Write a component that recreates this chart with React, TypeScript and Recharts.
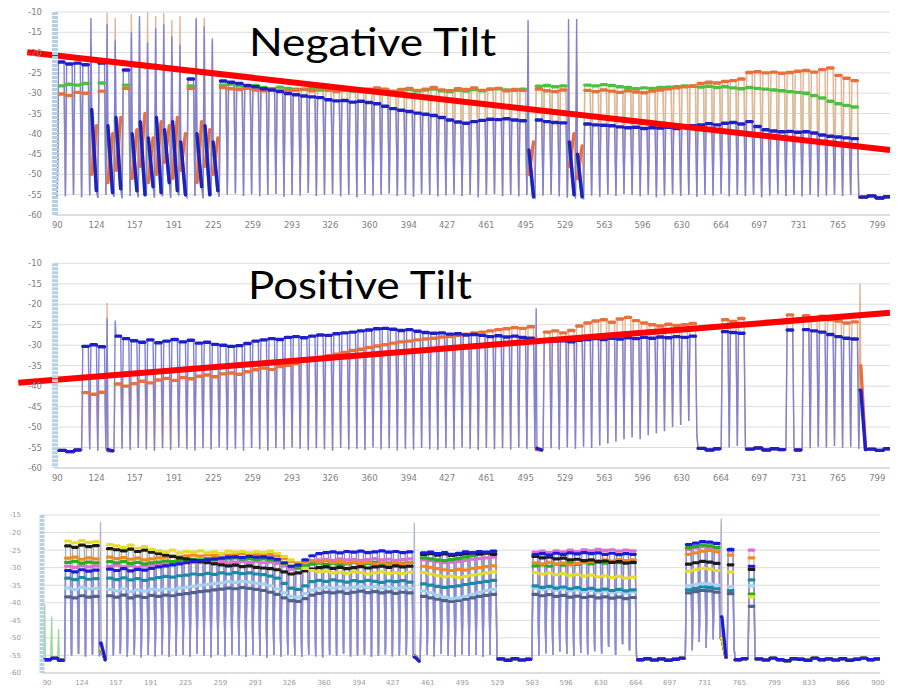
import React from 'react';
import { LineChart, Line, XAxis, YAxis, CartesianGrid, ReferenceLine } from 'recharts';

const _ = null;

// ---------- axes ----------
const p12Ticks = [90, 124, 157, 191, 225, 259, 293, 326, 360, 394, 427, 461, 495, 529, 563, 596, 630, 664, 697, 731, 765, 799];
const p3Ticks = [90, 124, 157, 191, 225, 259, 293, 326, 360, 394, 427, 461, 495, 529, 563, 596, 630, 664, 697, 731, 765, 799, 833, 866, 900];
const yTicks12 = [-10, -15, -20, -25, -30, -35, -40, -45, -50, -55, -60];
const yTicks3 = [-15, -20, -25, -30, -35, -40, -45, -50, -55, -60];

// ---------- panel 1 : Negative Tilt (channel levels, dBm) ----------
const p1Blue = [
  -22.3, -22.8, -22.6, -23.0, -34, -22.6, -38, -36, -24.3, -40,
  -37, -41, -36, -39, -37, -42, -26.5, -40, -38, -42,
  -27.0, -27.3, -27.6, -28.1, -28.4, -28.9, -29.2, -29.6, -30.1, -30.4,
  -30.7, -30.9, -31.1, -31.6, -31.9, -31.8, -32.2, -32.0, -32.3, -32.6,
  -33.2, -33.8, -34.2, -34.5, -34.9, -35.2, -35.5, -36.0, -36.6, -37.1,
  -37.4, -37.0, -36.7, -36.4, -36.5, -36.3, -36.6, -36.8, -44, -36.6,
  -37.0, -37.2, -37.3, -42, -45, -37.6, -37.8, -37.9, -38.0, -38.3,
  -38.5, -38.4, -38.7, -38.5, -38.6, -38.4, -38.7, -38.3, -38.0, -37.8,
  -37.5, -37.8, -37.4, -37.2, -37.6, -37.0, -38.2, -39.0, -39.3, -39.5,
  -39.4, -39.6, -39.5, -39.8, -40.3, -40.6, -40.8, -41.0, -41.2, _,
  _, _, _,
];
const p1Orange = [
  -30.2, -30.6, -29.8, -30.0, -50, -29.5, -52, -49, -28.8, -51,
  -48, -52, -50, -47, -51, -49, -28.8, -52, -48, -50,
  -28.6, -28.9, -29.1, -28.8, -29.2, -29.4, -29.0, -29.3, -29.5, -29.2,
  -29.0, -29.4, -28.8, -29.3, -29.6, -29.1, -28.9, -29.4, -29.2, -28.7,
  -29.0, -29.5, -29.1, -28.8, -29.3, -29.0, -28.6, -29.2, -29.4, -28.9,
  -29.1, -28.7, -29.3, -29.0, -28.8, -29.4, -29.1, -29.3, -50, -29.0,
  -29.4, -29.6, -29.2, -48, -51, -29.3, -29.6, -29.2, -29.5, -29.8,
  -29.4, -29.7, -29.9, -29.5, -29.2, -28.9, -28.7, -28.4, -28.2, -27.6,
  -27.3, -27.5, -27.1, -26.9, -26.5, -24.9, -24.7, -25.0, -24.8, -25.1,
  -24.9, -24.6, -24.4, -24.8, -24.2, -23.8, -25.6, -26.3, -26.9, _,
  _, _, _,
];
const p1Green = [
  -28.2, -27.8, -28.0, -27.6, -35, -27.5, -39, -37, -28.0, -41,
  -38, -42, -37, -40, -38, -43, -28.2, -41, -39, -43,
  -28.0, -27.8, -28.2, -28.4, -28.1, -28.6, -28.9, -28.5, -28.8, -29.0,
  -29.1, -28.7, -29.2, -29.0, -28.8, -29.3, -29.5, -29.1, -29.0, -29.4,
  -29.2, -29.6, -29.3, -29.1, -29.5, -29.2, -29.0, -29.4, -29.6, -29.3,
  -29.5, -29.1, -29.4, -29.0, -28.9, -29.2, -29.3, -29.0, -45, -28.3,
  -28.1, -28.4, -28.2, -43, -46, -28.0, -28.2, -27.9, -28.1, -28.4,
  -28.6, -28.9, -28.7, -28.8, -28.6, -28.5, -28.4, -28.2, -28.3, -28.5,
  -28.3, -28.6, -28.4, -28.7, -28.9, -28.6, -28.8, -29.0, -29.2, -29.4,
  -29.6, -29.8, -30.0, -30.6, -31.2, -32.0, -32.6, -33.0, -33.4, _,
  _, _, _,
];
const p1Bottom = [
  -55.4, -55.0, -55.6, -55.2, -55.8, -55.1, -55.5, -55.9, -55.3, -55.6,
  -55.0, -55.7, -55.4, -55.8, -55.2, -55.6, -55.3, -55.9, -55.1, -55.5,
  -55.0, -54.7, -55.3, -54.9, -55.4, -55.1, -54.8, -55.5, -55.0, -55.2,
  -54.6, -55.3, -55.0, -54.8, -55.4, -55.1, -55.6, -54.9, -55.2, -55.0,
  -54.7, -55.3, -55.1, -55.5, -54.8, -55.0, -55.4, -55.2, -54.9, -55.3,
  -55.0, -55.6, -55.1, -54.8, -55.3, -55.0, -55.4, -55.1, -55.8, -55.2,
  -55.0, -55.4, -55.7, -55.6, -55.9, -55.2, -55.5, -55.0, -55.3, -54.8,
  -55.1, -55.4, -55.0, -55.6, -55.2, -54.9, -55.3, -55.1, -55.5, -55.0,
  -55.2, -54.8, -55.4, -55.1, -55.3, -55.0, -55.6, -55.2, -54.9, -55.3,
  -55.0, -55.4, -55.1, -55.5, -55.2, -55.0, -55.3, -55.1, -55.4, -55.6,
  -55.3, -55.8, -55.5,
];
// end level of the chaotic (unstable) channels
const p1ChaosEnd: Record<number, number> = { 4: -54, 6: -54.5, 7: -53.5, 9: -54, 10: -55, 11: -53, 12: -54.5, 13: -52, 14: -54, 15: -55, 17: -53, 18: -55, 19: -54, 58: -55.5, 63: -55, 64: -55.5 };
const p1OrangeChaosEnd: Record<number, number> = { 4: -38, 6: -40, 7: -36, 9: -39, 10: -35, 11: -41, 12: -37, 13: -38, 14: -36, 15: -40, 17: -37, 18: -39, 19: -41, 58: -42, 63: -40, 64: -43 };
const p1SpikeTan: Record<number, number> = { 4: -18, 6: -10.2, 7: -11.5, 9: -10.5, 10: -12, 11: -10, 12: -11, 13: -10.3, 14: -12, 15: -11, 17: -12, 18: -11.5, 19: -17, 58: -22.5, 64: -22 };
const p1SpikeLav: Record<number, number> = { 4: -11.5, 6: -13, 7: -17, 9: -15, 10: -11, 11: -17.5, 12: -14, 13: -13, 14: -16, 15: -18, 17: -11.5, 18: -13.5, 19: -16.5, 58: -12, 63: -11.7, 64: -11.7 };
const p1Tilt = [{ x: 64, y: -19.9 }, { x: 810, y: -44 }];

// ---------- panel 2 : Positive Tilt ----------
const p2Blue = [
  _, _, _, -30.3, -29.9, -30.4, -55.5, -27.8, -28.4, -28.9,
  -29.3, -28.7, -29.4, -29.0, -28.6, -29.2, -28.8, -29.5, -29.3, -29.8,
  -30.0, -30.3, -30.1, -29.6, -29.0, -28.7, -28.4, -28.6, -28.1, -27.9,
  -28.2, -27.8, -27.5, -27.6, -27.2, -27.0, -26.8, -26.5, -26.3, -26.0,
  -25.9, -26.1, -26.4, -26.2, -26.6, -26.9, -27.1, -27.0, -27.3, -27.2,
  -27.5, -27.4, -27.6, -27.9, -27.7, -28.0, -27.8, -28.1, -28.3, -55.2,
  -28.7, -29.0, -28.9, -29.2, -28.8, -28.6, -28.4, -28.6, -28.3, -28.5,
  -28.2, -28.4, -28.1, -28.3, -28.0, -28.2, -27.9, -28.1, -27.8, _,
  _, _, -26.7, -26.9, -27.1, _, _, _, _, _,
  -26.3, _, -26.2, -26.5, -26.8, -27.4, -27.9, -28.3, -28.5, -41,
  _, _, _,
];
const p2Orange = [
  _, _, _, -41.6, -42.0, -41.5, -55.8, -39.5, -40.0, -39.4,
  -38.8, -39.2, -38.5, -38.1, -38.6, -37.9, -38.2, -37.6, -37.3, -37.7,
  -37.0, -36.8, -37.1, -36.5, -36.0, -35.6, -35.9, -35.2, -34.9, -34.5,
  -33.8, -33.5, -33.0, -32.6, -32.2, -31.8, -31.3, -31.0, -30.6, -30.2,
  -29.9, -29.5, -29.2, -29.0, -28.7, -28.5, -28.3, -28.0, -27.9, -27.6,
  -27.3, -27.0, -26.8, -26.5, -26.2, -26.0, -25.7, -25.9, -25.5, -55.5,
  -26.8, -26.5, -27.0, -26.4, -25.3, -24.6, -24.1, -23.8, -24.4, -23.6,
  -23.2, -24.0, -24.6, -25.0, -25.3, -24.9, -25.2, -25.0, -24.7, _,
  _, _, -23.8, -24.2, -23.5, _, _, _, _, _,
  -22.6, _, -22.8, -23.4, -22.9, -23.8, -24.1, -24.6, -24.3, -35,
  _, _, _,
];
const p2Bottom = [
  -55.7, -56.0, -55.6, -55.5, -55.8, -55.4, -55.9, -55.3, -55.6, -55.1,
  -55.5, -55.8, -55.2, -55.6, -55.0, -55.4, -55.7, -55.2, -55.5, -55.0,
  -55.6, -55.3, -55.8, -55.1, -55.4, -55.7, -55.2, -55.5, -55.0, -55.3,
  -55.6, -55.2, -55.4, -55.8, -55.1, -55.5, -55.3, -55.6, -55.0, -55.4,
  -55.2, -55.7, -55.3, -55.5, -55.1, -55.4, -55.6, -55.2, -55.5, -55.0,
  -55.3, -55.6, -55.1, -55.4, -55.2, -55.5, -55.0, -55.3, -55.1, -55.4,
  -55.2, -55.5, -55.0, -55.3, -54.8, -55.1, -54.5, -54.0, -53.5, -53.0,
  -52.5, -53.0, -52.0, -51.5, -51.0, -50.0, -49.5, -48.5, -52.0, -55.2,
  -55.6, -55.3, -55.0, -54.6, -55.2, -55.4, -55.1, -55.6, -55.3, -55.5,
  -55.0, -55.6, -55.2, -54.8, -55.0, -54.6, -55.1, -54.9, -55.3, -55.6,
  -55.4, -55.7, -55.3,
];
const p2ChaosEnd: Record<number, number> = { 6: -55.8, 59: -55.6, 99: -55.5 };
const p2SpikeTan: Record<number, number> = { 6: -19.7, 99: -15 };
const p2SpikeLav: Record<number, number> = { 6: -23.4, 7: -24, 59: -21 };
const p2Tilt = [{ x: 56.3, y: -39.2 }, { x: 810, y: -22.1 }];

// ---------- panel 3 : many channels / groups ----------
const p3Layout: [string, number][] = [
  ['floor', 3], ['A1', 5], ['spike', 1], ['A2', 44], ['spike', 1], ['B', 11], ['floor', 5],
  ['C', 15], ['floor', 7], ['D', 5], ['spike', 1], ['D2', 1], ['floor', 2], ['E', 1], ['floor', 18],
];
const p3Yellow = {
  A1: [-22.4, -22.9, -22.3, -22.8, -22.6],
  A2: [-23.4, -23.8, -24.2, -23.6, -24.5, -24.0, -24.8, -25.2, -25.6, -25.0, -25.8, -25.4, -25.6, -25.2, -25.8, -25.5, -25.9, -25.3, -25.6, -25.4, -25.8, -25.5, -25.7, -25.3, -25.9, -26.8, -27.8, -29.0, -30.2, -30.8, -31.2, -31.0, -31.5, -31.3, -31.6, -31.2, -31.4, -31.8, -31.5, -31.2, -31.6, -31.4, -31.7, -31.3],
  B: [-31.4, -31.8, -32.2, -32.6, -32.4, -32.8, -32.5, -32.1, -31.8, -31.5, -31.2],
  C: [-31.4, -31.8, -31.5, -32.0, -31.7, -32.2, -31.9, -32.4, -32.1, -32.6, -32.3, -32.8, -32.5, -33.0, -32.7],
  D: [-31.0, -30.6, -30.2, -30.4, -30.8], D2: [-31.2], E: [-38.3], spike: [-53, -55.2, -50],
};
const p3Black = {
  A1: [-23.8, -24.2, -23.6, -24.0, -23.7],
  A2: [-24.6, -24.9, -25.2, -24.7, -25.4, -25.0, -25.6, -26.0, -26.4, -26.8, -27.2, -27.5, -27.9, -28.3, -28.6, -28.9, -29.2, -29.5, -29.3, -29.7, -29.5, -29.9, -30.1, -30.3, -30.6, -31.2, -31.8, -31.5, -30.9, -30.4, -30.0, -29.8, -30.2, -29.9, -30.3, -30.0, -29.7, -30.1, -29.8, -29.6, -29.9, -29.5, -29.8, -29.6],
  B: [-26.2, -26.0, -26.4, -26.1, -26.5, -26.3, -26.0, -25.8, -26.1, -25.9, -26.2],
  C: [-26.8, -27.2, -27.0, -27.5, -27.3, -27.8, -27.6, -28.0, -27.8, -28.3, -28.1, -28.5, -28.3, -28.7, -28.5],
  D: [-29.0, -28.6, -28.2, -28.4, -28.8], D2: [-29.2], E: [-30.5], spike: [-53, -55.2, -50],
};
const p3Orange = {
  A1: [-27.3, -27.0, -27.6, -27.2, -27.5],
  A2: [-27.0, -27.4, -27.1, -27.6, -27.3, -27.8, -27.5, -27.2, -27.0, -26.8, -26.9, -26.6, -26.4, -26.7, -26.3, -26.5, -26.1, -26.4, -26.2, -26.0, -26.3, -26.1, -26.4, -26.2, -26.6, -27.4, -28.2, -28.6, -28.3, -28.0, -28.4, -28.1, -28.6, -28.3, -28.7, -28.4, -28.8, -28.5, -28.9, -28.6, -29.0, -28.7, -28.9, -28.6],
  B: [-29.6, -29.9, -30.3, -30.6, -30.8, -30.5, -30.7, -30.2, -30.0, -29.7, -29.5],
  C: [-28.6, -28.9, -28.5, -29.0, -28.7, -29.2, -28.8, -28.5, -28.2, -28.0, -27.8, -28.1, -27.7, -28.0, -27.8],
  D: [-26.2, -25.8, -25.3, -25.1, -25.5], D2: [-26.4], E: [-27.2], spike: [-53, -55.2, -50],
};
const p3Green = {
  A1: [-28.5, -28.2, -28.7, -28.4, -28.6],
  A2: [-28.3, -28.6, -28.2, -28.8, -28.5, -28.9, -28.6, -28.4, -28.1, -28.3, -27.9, -28.0, -27.6, -27.8, -27.4, -27.7, -27.3, -27.5, -27.2, -27.6, -27.4, -27.7, -27.5, -27.8, -28.0, -28.8, -29.6, -30.0, -29.5, -29.0, -28.7, -29.1, -28.8, -29.2, -28.9, -28.6, -29.0, -28.8, -28.5, -28.9, -28.7, -29.1, -28.8, -28.6],
  B: [-27.2, -27.5, -27.8, -28.0, -27.7, -27.4, -27.0, -26.6, -26.2, -25.8, -25.9],
  C: [-29.5, -29.2, -29.6, -29.0, -29.3, -28.8, -29.1, -28.6, -28.9, -28.4, -28.7, -28.3, -28.6, -28.4, -28.6],
  D: [-24.3, -24.0, -23.6, -23.8, -24.2], D2: [-25.0], E: [-37.5], spike: [-53, -55.2, -50],
};
const p3Blue = {
  A1: [-30.8, -31.2, -30.6, -31.0, -30.7],
  A2: [-30.4, -30.8, -30.3, -30.9, -30.5, -30.7, -30.2, -29.8, -29.5, -29.2, -28.9, -28.6, -28.3, -28.0, -27.8, -27.5, -27.3, -27.0, -26.9, -27.1, -26.8, -27.0, -26.9, -27.2, -27.6, -28.6, -29.6, -29.2, -27.8, -26.6, -26.0, -25.7, -25.5, -25.8, -25.4, -25.6, -25.3, -25.7, -25.5, -25.2, -25.6, -25.4, -25.7, -25.5],
  B: [-25.8, -25.6, -26.0, -25.7, -26.2, -25.9, -25.5, -25.8, -25.4, -25.6, -25.3],
  C: [-26.3, -26.0, -26.4, -25.9, -26.2, -25.8, -26.1, -25.7, -26.0, -25.8, -26.2, -25.9, -26.3, -26.0, -26.2],
  D: [-23.4, -23.0, -22.6, -22.7, -23.1], D2: [-24.8], E: [-29.6], spike: [-51.5, -55.5, -44],
};
const p3Pink = {
  A1: [-29.6, -29.9, -29.4, -29.8, -29.5],
  A2: [-29.6, -29.3, -29.8, -29.4, -29.9, -29.5, -29.2, -29.0, -28.8, -28.9, -28.5, -28.6, -28.4, -28.6, -28.2, -28.5, -28.3, -28.6, -28.4, -28.2, -28.5, -28.3, -28.6, -28.4, -28.8, -29.5, -30.4, -30.2, -29.2, -28.2, -27.8, -27.6, -27.9, -27.5, -27.8, -27.6, -27.9, -27.7, -27.4, -27.8, -27.6, -27.9, -27.7, -27.5],
  B: [-27.8, -28.0, -28.3, -28.6, -28.4, -28.2, -27.9, -27.6, -27.4, -27.2, -27.0],
  C: [-25.6, -25.3, -25.7, -25.2, -25.5, -25.0, -25.4, -24.9, -25.2, -24.8, -25.1, -24.9, -25.3, -25.0, -25.2],
  D: [-24.8, -24.4, -24.0, -24.2, -24.6], D2: [-25.2], E: [-25.0], spike: [-53, -55.2, -50],
};
const p3Teal = {
  A1: [-33.0, -33.4, -32.8, -33.3, -33.1],
  A2: [-33.0, -33.4, -32.9, -33.5, -33.1, -33.6, -33.2, -32.8, -32.5, -32.7, -32.3, -32.1, -31.8, -32.0, -31.6, -31.9, -31.5, -31.8, -31.4, -31.7, -31.5, -31.8, -32.0, -32.4, -33.0, -34.5, -35.8, -36.2, -35.2, -34.0, -33.6, -33.9, -33.5, -33.8, -34.1, -33.7, -34.0, -33.6, -33.9, -34.2, -33.8, -34.0, -33.7, -34.1],
  B: [-34.6, -35.0, -35.3, -35.6, -35.4, -35.2, -34.8, -34.5, -34.2, -33.9, -33.6],
  C: [-35.2, -35.6, -35.3, -35.8, -35.5, -36.0, -35.7, -36.2, -35.9, -36.4, -36.1, -36.5, -36.2, -36.6, -36.3],
  D: [-36.3, -35.9, -35.5, -35.6, -36.0], D2: [-36.5], E: [-33.5], spike: [-53, -55.2, -50],
};
const p3LightBlue = {
  A1: [-35.8, -36.2, -35.6, -36.0, -35.9],
  A2: [-36.2, -36.6, -36.0, -36.8, -36.3, -36.7, -36.1, -36.4, -36.0, -36.3, -35.8, -35.6, -35.3, -35.0, -34.8, -34.5, -34.3, -34.0, -34.2, -33.9, -34.1, -34.4, -34.7, -35.2, -36.0, -37.2, -38.2, -38.4, -37.4, -36.4, -35.9, -35.6, -35.8, -35.5, -35.9, -35.6, -35.3, -35.7, -35.4, -35.8, -35.5, -35.9, -35.6, -35.8],
  B: [-36.6, -37.2, -37.8, -38.4, -38.8, -38.6, -38.2, -37.6, -37.0, -36.5, -36.2],
  C: [-35.8, -36.2, -36.0, -36.4, -36.1, -36.6, -36.3, -36.8, -36.5, -37.0, -36.7, -37.1, -36.8, -37.2, -36.9],
  D: [-35.2, -34.8, -34.5, -34.6, -35.0], D2: [-35.4], E: [-35.2], spike: [-53, -55.2, -50],
};
const p3Navy = {
  A1: [-38.3, -38.6, -38.0, -38.4, -38.2],
  A2: [-38.0, -38.4, -37.8, -38.6, -38.1, -38.5, -37.9, -38.2, -37.8, -38.0, -37.6, -37.4, -37.1, -36.8, -36.6, -36.3, -36.1, -35.8, -36.0, -35.7, -35.9, -36.2, -36.5, -37.0, -37.6, -38.6, -39.4, -39.6, -38.8, -37.8, -37.3, -37.0, -37.2, -36.9, -37.3, -37.0, -36.7, -37.1, -36.8, -37.2, -36.9, -37.3, -37.0, -37.2],
  B: [-38.2, -38.6, -39.0, -39.4, -39.6, -39.3, -39.0, -38.6, -38.2, -37.9, -37.6],
  C: [-37.6, -38.0, -37.7, -38.2, -37.9, -38.4, -38.1, -38.5, -38.2, -38.6, -38.3, -38.7, -38.4, -38.8, -38.5],
  D: [-37.2, -36.8, -36.5, -36.6, -37.0], D2: [-37.4], E: [-41.0], spike: [-53, -55.2, -50],
};
const p3Bottom = [
  -56.2, -55.8, -56.4,
  -55.0, -54.6, -55.3, -54.8, -55.2,
  -56.0,
  -55.0, -54.6, -55.3, -54.8, -55.5, -54.9, -55.2, -54.7, -55.4, -55.0,
  -54.8, -55.3, -54.6, -55.1, -55.5, -54.9, -55.2, -54.7, -55.0, -55.4,
  -54.8, -55.1, -55.6, -54.9, -55.3, -54.7, -55.0, -55.4, -54.8, -55.2,
  -55.5, -54.9, -55.1, -54.6, -55.3, -55.0, -54.8, -55.4, -55.1, -54.7,
  -55.2, -55.0, -54.9, -55.3,
  -56.4,
  -54.8, -55.2, -54.6, -55.0, -55.3, -54.7, -55.1, -54.9, -55.4, -54.8, -55.6,
  -56.0, -56.4, -55.9, -56.3, -56.1,
  -55.0, -54.4, -54.8, -53.9, -54.6, -55.1, -54.2, -54.7, -53.8, -54.5, -52.6, -54.9, -51.8, -53.6, -55.2,
  -56.2, -55.9, -56.3, -56.0, -56.4, -56.1, -55.8,
  -53.5, -51.2, -52.8, -50.4, -49.8,
  -55.6,
  -53.0,
  -56.2, -55.9,
  -55.5,
  -56.0, -56.3, -55.8, -56.2, -56.5, -55.9, -56.1, -56.4, -55.8, -56.2, -56.0, -56.3, -55.9, -56.4, -56.1, -55.8, -56.2, -56.0,
];
const p3End: Record<number, number> = { 8: -56.2, 53: -56.6, 97: -55.5 };
const p3SpikeGray: Record<number, number> = { 8: -17, 53: -17.2, 97: -16 };
const p3SpikeTan: Record<number, number> = { 8: -19.5, 97: -17.5 };
const p3SpikeGreen: Record<number, number> = { 0: -40.5, 1: -44, 2: -47.5 };

// ---------- helpers ----------
type Series = { key: string; values: (number | null)[]; spikes?: Record<number, number>; ends?: Record<number, number>; thin: string; thick: string };

function assemble(groups: Record<string, number[]>): (number | null)[] {
  const out: (number | null)[] = [];
  let sp = 0;
  p3Layout.forEach(([name, n]) => {
    for (let i = 0; i < n; i++) {
      if (name === 'floor') out.push(null);
      else if (name === 'spike') out.push(groups.spike[sp++] ?? null);
      else out.push(groups[name][i] ?? null);
    }
  });
  return out;
}

function buildRows(start: number, step: number, bottom: number[], ends: Record<number, number>, series: Series[]) {
  const rows: Record<string, number | null>[] = [];
  const first: Record<string, number | null> = { x: start };
  series.forEach((s) => { first[s.key] = bottom[0]; first[s.key + 'T'] = null; });
  rows.push(first);
  for (let k = 0; k < bottom.length; k++) {
    const x0 = start + k * step;
    const xs = [x0 + 0.15 * step, x0 + 0.25 * step, x0 + 0.83 * step, x0 + step];
    const r = xs.map((x) => ({ x } as Record<string, number | null>));
    series.forEach((s) => {
      const v = s.values[k];
      const active = v !== null && v !== undefined;
      const L = active ? (v as number) : bottom[k];
      const own = s.ends && s.ends[k] !== undefined ? s.ends[k] : undefined;
      const R = own !== undefined ? own : ends[k] !== undefined ? ends[k] : L;
      const sp = s.spikes && s.spikes[k] !== undefined ? s.spikes[k] : null;
      const nv = s.values[k + 1];
      const nextActive = nv !== null && nv !== undefined;
      r[0][s.key] = sp !== null ? sp : L;
      r[1][s.key] = L;
      r[2][s.key] = R;
      r[3][s.key] = bottom[k];
      r[0][s.key + 'T'] = sp !== null ? null : L;
      r[1][s.key + 'T'] = L;
      r[2][s.key + 'T'] = R;
      r[3][s.key + 'T'] = !active && !nextActive ? bottom[k] : null;
    });
    rows.push(...r);
  }
  return rows;
}

// ---------- series definitions ----------
const s1: Series[] = [
  { key: 'green', values: p1Green, thin: '#b4dcaa', thick: '#4cc040' },
  { key: 'orange', values: p1Orange, spikes: p1SpikeTan, ends: p1OrangeChaosEnd, thin: '#e4b494', thick: '#e8703c' },
  { key: 'blue', values: p1Blue, spikes: p1SpikeLav, thin: '#8282d2', thick: '#1f1fc8' },
];
const s2: Series[] = [
  { key: 'orange', values: p2Orange, spikes: p2SpikeTan, thin: '#e4b494', thick: '#e8703c' },
  { key: 'blue', values: p2Blue, spikes: p2SpikeLav, thin: '#8282d2', thick: '#1f1fc8' },
];
const s3: Series[] = [
  { key: 'yellow', values: assemble(p3Yellow), thin: '#ece6a6', thick: '#e6dc2c' },
  { key: 'orange', values: assemble(p3Orange), spikes: p3SpikeTan, thin: '#eec8a0', thick: '#f08a20' },
  { key: 'green', values: assemble(p3Green), spikes: p3SpikeGreen, thin: '#9ed69e', thick: '#22b022' },
  { key: 'pink', values: assemble(p3Pink), thin: '#e6c0e0', thick: '#e070d0' },
  { key: 'teal', values: assemble(p3Teal), thin: '#9cc8d6', thick: '#1a8aa8' },
  { key: 'light', values: assemble(p3LightBlue), spikes: p3SpikeGray, thin: '#b0b6cc', thick: '#a6d2f0' },
  { key: 'black', values: assemble(p3Black), thin: '#b0b0b8', thick: '#1a1a1a' },
  { key: 'navy', values: assemble(p3Navy), thin: '#a0a0cc', thick: '#52608c' },
  { key: 'blue', values: assemble(p3Blue), thin: '#8a8ad8', thick: '#1c1cd6' },
];
const s3ThickOrder = ['navy', 'light', 'teal', 'pink', 'green', 'orange', 'black', 'yellow', 'blue'];

const rows1 = buildRows(90, 7, p1Bottom, p1ChaosEnd, s1);
const rows2 = buildRows(90, 7, p2Bottom, p2ChaosEnd, s2);
const rows3 = buildRows(86.6, 6.8, p3Bottom, p3End, s3);

type PanelProps = {
  top: number; height: number; marginTop: number; right: number; yWidth: number; xHeight: number;
  xDomain: [number, number]; xTicks: number[]; yDomain: [number, number]; yTicks: number[];
  rows: Record<string, number | null>[]; series: Series[]; thickOrder?: string[];
  tilt?: { x: number; y: number }[]; yTickMargin: number; xTickMargin: number;
  font: number; fontColor: string; barWidth: number; thinWidth: number; thickWidth: number;
};

function Panel(p: PanelProps) {
  const tickStyle = { fill: p.fontColor, fontSize: p.font, fontFamily: 'DejaVu Sans' };
  const thickSeries = p.thickOrder ? p.thickOrder.map((k) => p.series.find((s) => s.key === k) as Series) : p.series;
  return (
    <div style={{ position: 'absolute', left: 0, top: p.top }}>
      <LineChart width={898} height={p.height} data={p.rows} margin={{ top: p.marginTop, right: p.right, bottom: 0, left: 0 }}>
        <CartesianGrid vertical={false} stroke="#dcdcdc" />
        <XAxis dataKey="x" type="number" domain={p.xDomain} ticks={p.xTicks} allowDataOverflow interval={0}
          height={p.xHeight} tickSize={0} tickMargin={p.xTickMargin} tickLine={false}
          axisLine={{ stroke: '#cfcfcf' }} tick={tickStyle} />
        <YAxis type="number" domain={p.yDomain} ticks={p.yTicks} allowDataOverflow interval={0}
          width={p.yWidth} tickSize={0} tickMargin={p.yTickMargin} tickLine={false}
          axisLine={{ stroke: '#b6d0e6', strokeWidth: p.barWidth, strokeDasharray: '3 1' }} tick={tickStyle} />
        {p.series.map((s) => (
          <Line key={s.key} dataKey={s.key} type="linear" stroke={s.thin} strokeWidth={p.thinWidth}
            dot={false} activeDot={false} isAnimationActive={false} />
        ))}
        {thickSeries.map((s) => (
          <Line key={s.key + 'T'} dataKey={s.key + 'T'} type="linear" stroke={s.thick} strokeWidth={p.thickWidth}
            strokeLinecap="round" strokeLinejoin="round" connectNulls={false}
            dot={false} activeDot={false} isAnimationActive={false} />
        ))}
        {p.tilt && (
          <ReferenceLine segment={p.tilt} stroke="#ff0000" strokeWidth={6} ifOverflow="visible" />
        )}
      </LineChart>
    </div>
  );
}

export default function App() {
  return (
    <div style={{ position: 'absolute', left: 0, top: 0, width: 898, height: 690, background: '#ffffff', overflow: 'hidden' }}>
      <Panel top={0} height={240} marginTop={12} right={8} yWidth={55} xHeight={25}
        xDomain={[88, 810]} xTicks={p12Ticks} yDomain={[-60, -10]} yTicks={yTicks12}
        rows={rows1} series={s1} tilt={p1Tilt} yTickMargin={13} xTickMargin={7}
        font={8.5} fontColor="#808080" barWidth={6} thinWidth={1.4} thickWidth={3.4} />
      <Panel top={250} height={243} marginTop={13.3} right={8} yWidth={55} xHeight={25}
        xDomain={[88, 810]} xTicks={p12Ticks} yDomain={[-60, -10]} yTicks={yTicks12}
        rows={rows2} series={s2} tilt={p2Tilt} yTickMargin={13} xTickMargin={7}
        font={8.5} fontColor="#808080" barWidth={6} thinWidth={1.4} thickWidth={3.4} />
      <Panel top={500} height={190} marginTop={15} right={18} yWidth={42} xHeight={17}
        xDomain={[85, 902]} xTicks={p3Ticks} yDomain={[-60, -15]} yTicks={yTicks3}
        rows={rows3} series={s3} thickOrder={s3ThickOrder} yTickMargin={21} xTickMargin={7}
        font={7} fontColor="#9a9a9a" barWidth={5} thinWidth={1.3} thickWidth={3.2} />
      <svg width={898} height={690} style={{ position: 'absolute', left: 0, top: 0, pointerEvents: 'none' }}>
        <text x={249} y={56} fontFamily="Lato" fontSize={38} fill="#000000" textLength={247} lengthAdjust="spacingAndGlyphs">Negative Tilt</text>
        <text x={248} y={298.5} fontFamily="Lato" fontSize={38} fill="#000000" textLength={224} lengthAdjust="spacingAndGlyphs">Positive Tilt</text>
      </svg>
    </div>
  );
}
